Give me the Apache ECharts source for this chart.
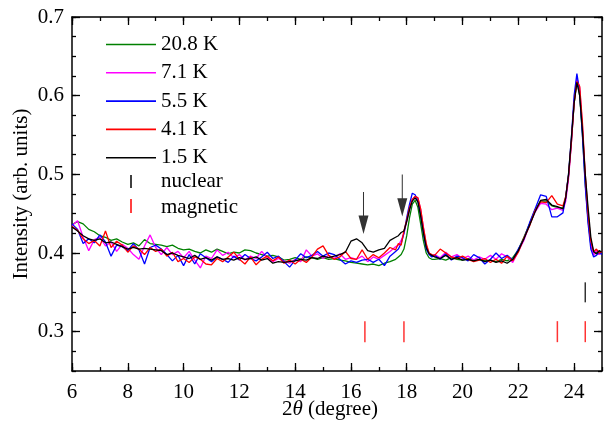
<!DOCTYPE html>
<html><head><meta charset="utf-8">
<script src="https://cdn.jsdelivr.net/npm/echarts@6/dist/echarts.min.js"></script>
<style>html,body{margin:0;padding:0;background:#fff;overflow:hidden}#c{position:absolute;left:0;top:0;width:604px;height:421px}</style>
</head><body><div id="c"></div>
<script>
// 2theta (degree)
const xs = [6.0,6.2,6.4,6.6,6.8,7.0,7.2,7.4,7.6,7.8,
8.0,8.2,8.4,8.6,8.8,9.0,9.2,9.4,9.6,9.8,
10.0,10.2,10.4,10.6,10.8,11.0,11.2,11.4,11.6,11.8,
12.0,12.2,12.4,12.6,12.8,13.0,13.2,13.4,13.6,13.8,
14.0,14.2,14.4,14.6,14.8,15.0,15.2,15.4,15.6,15.8,
16.0,16.2,16.4,16.6,16.8,17.0,17.2,17.4,17.6,
17.7,17.8,17.9,18.0,18.1,18.2,18.3,18.4,18.5,18.6,18.7,18.8,18.9,
19.0,19.2,19.4,19.6,19.8,20.0,20.2,20.4,20.6,20.8,
21.0,21.2,21.4,21.6,21.8,22.0,22.2,22.4,22.6,22.8,
23.0,23.2,23.4,23.6,
23.7,23.8,23.9,24.0,24.1,24.2,24.3,24.4,24.5,24.6,24.7,24.8,24.9,25.0];

const seriesNames = ['20.8 K','7.1 K','5.5 K','4.1 K','1.5 K'];
const seriesColors = ['#008000','#ff00ff','#0000ff','#ff0000','#000000'];

const y208 = [.436,.440,.437,.430,.427,.422,.420,.416,.418,.414,
.411,.413,.409,.417,.412,.411,.410,.408,.410,.406,
.404,.405,.402,.400,.404,.401,.405,.402,.399,.401,
.400,.404,.403,.400,.398,.396,.397,.395,.391,.392,
.394,.392,.395,.394,.392,.394,.392,.393,.391,.390,
.388,.387,.386,.385,.386,.384,.387,.389,.392,
.395,.398,.405,.422,.445,.462,.467,.458,.437,.415,.400,.394,.392,
.392,.393,.391,.394,.392,.391,.393,.390,.392,.390,
.391,.389,.392,.390,.394,.404,.420,.437,.455,.466,
.466,.460,.458,.457,
.470,.498,.540,.590,.620,.600,.550,.488,.442,.410,.400,.401,.402,.400];

const y71 = [.435,.441,.420,.403,.417,.420,.409,.414,.402,.411,
.406,.398,.392,.409,.423,.407,.398,.407,.398,.402,
.394,.402,.391,.381,.396,.393,.404,.397,.401,.394,
.398,.391,.396,.393,.402,.394,.389,.393,.390,.387,
.392,.389,.404,.396,.399,.393,.397,.393,.399,.392,
.394,.392,.396,.389,.395,.392,.397,.402,.408,
.410,.416,.425,.440,.455,.468,.472,.470,.455,.432,.410,.400,.396,
.398,.394,.401,.395,.398,.393,.396,.391,.395,.392,
.397,.392,.399,.395,.388,.402,.416,.436,.452,.463,
.462,.455,.457,.454,
.466,.494,.538,.592,.622,.610,.560,.495,.445,.412,.397,.404,.398,.402];

const y55 = [.437,.430,.412,.418,.413,.423,.414,.396,.410,.408,
.403,.412,.404,.386,.407,.410,.405,.398,.390,.397,
.384,.398,.386,.399,.394,.389,.395,.392,.388,.396,
.391,.398,.393,.390,.395,.401,.393,.396,.389,.382,
.391,.399,.394,.397,.402,.396,.400,.398,.392,.386,
.390,.388,.391,.392,.388,.392,.384,.396,.402,
.405,.412,.425,.445,.462,.476,.474,.466,.448,.425,.405,.398,.395,
.397,.392,.399,.391,.396,.394,.390,.398,.394,.386,
.392,.400,.393,.397,.391,.405,.418,.438,.456,.474,
.472,.446,.446,.451,
.472,.500,.545,.600,.628,.605,.548,.485,.438,.405,.395,.397,.401,.398];

const y41 = [.434,.429,.418,.412,.416,.409,.428,.407,.415,.410,
.401,.409,.405,.398,.407,.402,.405,.396,.401,.389,
.393,.388,.395,.392,.386,.385,.393,.389,.395,.401,
.392,.386,.395,.385,.392,.396,.390,.395,.387,.391,
.386,.392,.388,.395,.405,.409,.397,.392,.395,.402,
.393,.392,.404,.392,.398,.394,.400,.407,.404,
.412,.410,.428,.442,.458,.468,.472,.470,.456,.432,.412,.400,.398,
.397,.405,.400,.395,.393,.396,.392,.389,.391,.393,
.388,.392,.387,.396,.390,.401,.419,.434,.454,.465,
.464,.473,.462,.460,
.472,.498,.540,.590,.618,.612,.565,.500,.450,.415,.402,.405,.400,.402];

const y15 = [.433,.428,.422,.418,.416,.418,.413,.414,.411,.408,
.405,.407,.405,.406,.405,.404,.403,.398,.400,.397,
.395,.393,.397,.392,.394,.391,.395,.392,.393,.391,
.394,.392,.393,.395,.391,.393,.387,.389,.388,.389,
.390,.392,.391,.394,.393,.396,.394,.396,.398,.401,
.415,.418,.413,.403,.401,.404,.406,.416,.420,
.422,.426,.428,.440,.455,.466,.470,.465,.447,.425,.407,.399,.397,
.395,.393,.397,.392,.394,.391,.392,.390,.392,.389,
.391,.388,.390,.387,.392,.403,.418,.435,.452,.467,
.468,.461,.459,.456,
.470,.500,.545,.590,.617,.600,.555,.500,.458,.420,.402,.399,.403,.401];

const seriesValues = [y208, y71, y55, y41, y15];

// reflection markers (2theta positions) and their vertical placement
const nuclearX = [24.4];
const nuclearY = [0.35];
const magneticX = [16.5, 17.9, 23.4, 24.4];
const magneticY = [0.30, 0.30, 0.30, 0.30];
// arrows marking new magnetic peaks
const arrowX = [16.45, 17.84];
const arrowY = [0.451, 0.473];

const yTickLabels = [0.3, 0.4, 0.5, 0.6, 0.7];
const xTickLabels = [6, 8, 10, 12, 14, 16, 18, 20, 22, 24];

const FONT = 'Liberation Serif';
const chart = echarts.init(document.getElementById('c'), null, {renderer: 'canvas', width: 604, height: 421});

const lineSeries = seriesNames.map((n, k) => ({
  name: n, type: 'line', xAxisIndex: 0, yAxisIndex: 0,
  data: xs.map((x, i) => [x, seriesValues[k][i]]),
  symbol: 'none', showSymbol: false,
  lineStyle: {color: seriesColors[k], width: 1.3},
  itemStyle: {color: seriesColors[k]},
  z: 2 + k
}));

const arrowPath = 'path://M4.4,0 L5.4,0 L5.4,23 L9.8,23 L4.9,41 L0,23 L4.4,23 Z';

const majorAxisX = (pos, labels) => ({
  type: 'value', gridIndex: 0, position: pos, min: 6, max: 25, interval: 2,
  axisLine: {show: true, onZero: false, lineStyle: {color: '#000', width: 1.5}},
  axisTick: {show: true, inside: true, length: 8, lineStyle: {color: '#000', width: 1.3}, customValues: xTickLabels},
  axisLabel: {show: labels, customValues: xTickLabels, color: '#000', fontFamily: FONT, fontSize: 21, margin: 11},
  splitLine: {show: false}
});
const minorAxisX = (pos) => ({
  type: 'value', gridIndex: 1, position: pos, min: 6, max: 25, interval: 1,
  axisLine: {show: false, onZero: false},
  axisTick: {show: true, inside: true, length: 4, lineStyle: {color: '#000', width: 1.3}},
  axisLabel: {show: false}, splitLine: {show: false}
});
const majorAxisY = (pos, labels) => ({
  type: 'value', gridIndex: 0, position: pos, min: 0.25, max: 0.7,
  axisLine: {show: true, onZero: false, lineStyle: {color: '#000', width: 1.5}},
  axisTick: {show: true, inside: true, length: 8, lineStyle: {color: '#000', width: 1.3}, customValues: yTickLabels},
  axisLabel: {show: labels, customValues: yTickLabels, color: '#000', fontFamily: FONT, fontSize: 21, margin: 8},
  splitLine: {show: false}
});
const minorAxisY = (pos) => ({
  type: 'value', gridIndex: 1, position: pos, min: 0.25, max: 0.7, interval: 0.025,
  axisLine: {show: false, onZero: false},
  axisTick: {show: true, inside: true, length: 4, lineStyle: {color: '#000', width: 1.3}},
  axisLabel: {show: false}, splitLine: {show: false}
});

const xMain = majorAxisX('bottom', true);
xMain.name = '2{i|θ} (degree)';
xMain.nameLocation = 'middle';
xMain.nameGap = 28;
xMain.nameMoveOverlap = false;
xMain.nameTextStyle = {color: '#000', fontFamily: FONT, fontSize: 21, padding: [0, 14, 0, 0],
  rich: {i: {fontStyle: 'italic', fontFamily: FONT, fontSize: 21, color: '#000'}}};
const yMain = majorAxisY('left', true);
yMain.name = 'Intensity (arb. units)';
yMain.nameLocation = 'middle';
yMain.nameGap = 40;
yMain.nameMoveOverlap = false;
yMain.nameTextStyle = {color: '#000', fontFamily: FONT, fontSize: 21};

chart.setOption({
  animation: false,
  backgroundColor: '#fff',
  grid: [
    {left: 72, width: 530, top: 17, height: 354, containLabel: false, outerBoundsMode: 'none'},
    {left: 72, width: 530, top: 17, height: 354, containLabel: false, outerBoundsMode: 'none'}
  ],
  xAxis: [xMain, majorAxisX('top', false), minorAxisX('bottom'), minorAxisX('top')],
  yAxis: [yMain, majorAxisY('right', false), minorAxisY('left'), minorAxisY('right')],
  legend: {
    orient: 'vertical', left: 106, top: 34, padding: 0,
    itemWidth: 50, itemHeight: 1.6, itemGap: 7.3, icon: 'rect',
    data: seriesNames,
    textStyle: {fontFamily: FONT, fontSize: 21, color: '#000', lineHeight: 20}
  },
  graphic: [
    {type: 'line', shape: {x1: 131, y1: 175, x2: 131, y2: 188}, style: {stroke: '#000', lineWidth: 1.5}},
    {type: 'line', shape: {x1: 131, y1: 199, x2: 131, y2: 213}, style: {stroke: '#ff0000', lineWidth: 1.5}},
    {type: 'text', x: 161, y: 181, style: {text: 'nuclear', fill: '#000', font: '21px "Liberation Serif"', verticalAlign: 'middle'}},
    {type: 'text', x: 161, y: 207, style: {text: 'magnetic', fill: '#000', font: '21px "Liberation Serif"', verticalAlign: 'middle'}}
  ],
  series: lineSeries.concat([
    {name: 'nuclear', type: 'scatter', xAxisIndex: 0, yAxisIndex: 0,
     data: nuclearX.map((x, i) => [x, nuclearY[i]]),
     symbol: 'rect', symbolSize: [1.5, 20], itemStyle: {color: '#000'}, z: 10, silent: true},
    {name: 'magnetic', type: 'scatter', xAxisIndex: 0, yAxisIndex: 0,
     data: magneticX.map((x, i) => [x, magneticY[i]]),
     symbol: 'rect', symbolSize: [1.5, 21], itemStyle: {color: '#ff0000'}, z: 10, silent: true},
    {name: 'arrows', type: 'scatter', xAxisIndex: 0, yAxisIndex: 0,
     data: arrowX.map((x, i) => [x, arrowY[i]]),
     symbol: arrowPath, symbolSize: [10, 42], symbolKeepAspect: false,
     itemStyle: {color: '#000'}, z: 10, silent: true}
  ])
});
</script>
</body></html>
